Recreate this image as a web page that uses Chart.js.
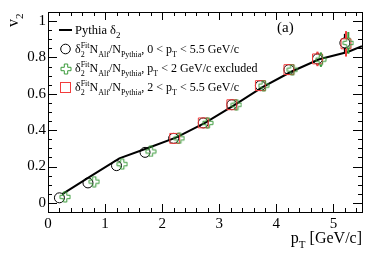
<!DOCTYPE html>
<html>
<head>
<meta charset="utf-8">
<script src="https://cdn.jsdelivr.net/npm/chart.js@4"></script>
<style>
  html, body { margin: 0; padding: 0; background: #fff; }
  #wrap { width: 374px; height: 253px; }
</style>
</head>
<body>
<div id="wrap"><canvas id="v2Chart"></canvas></div>
<script>
// Pythia delta_2 curve
const pythiaX = [0.25, 0.75, 1.25, 1.75, 2.25, 2.75, 3.25, 3.75, 4.25, 4.75, 5.25, 5.5];
const pythiaY = [0.048, 0.147, 0.245, 0.302, 0.36, 0.44, 0.535, 0.635, 0.72, 0.79, 0.83, 0.862];

// delta_2^Fit N_Alf/N_Pythia, 0 < pT < 5.5
const allX = [0.2, 0.7, 1.2, 1.7, 2.2, 2.72, 3.22, 3.72, 4.22, 4.72, 5.2];
const allY = [0.028, 0.11, 0.205, 0.278, 0.355, 0.44, 0.54, 0.645, 0.733, 0.792, 0.88];
const allErr = [0.005, 0.005, 0.005, 0.006, 0.008, 0.01, 0.012, 0.015, 0.02, 0.035, 0.05];

// pT < 2 GeV/c excluded
const exclX = [0.3, 0.81, 1.3, 1.8, 2.3, 2.8, 3.3, 3.78, 4.28, 4.78, 5.26];
const exclY = [0.033, 0.117, 0.213, 0.283, 0.355, 0.44, 0.54, 0.645, 0.733, 0.788, 0.88];
const exclErr = [0.005, 0.005, 0.005, 0.006, 0.008, 0.01, 0.012, 0.015, 0.02, 0.04, 0.06];

// 2 < pT < 5.5
const highX = [2.22, 2.72, 3.22, 3.72, 4.22, 4.72, 5.22];
const highY = [0.355, 0.44, 0.54, 0.645, 0.733, 0.792, 0.875];
const highErr = [0.008, 0.01, 0.012, 0.015, 0.02, 0.04, 0.07];

const xTicks = [0, 1, 2, 3, 4, 5];
const yTicks = [0, 0.2, 0.4, 0.6, 0.8, 1];

const GREEN = '#3a9a3a';
const RED = '#f23c3c';
const SERIF = '"Liberation Serif", "DejaVu Serif", serif';

function pts(xs, ys, es) {
    return xs.map((x, i) => ({ x: x, y: ys[i], e: es ? es[i] : 0 }));
}

// open cross marker (ROOT style 28)
function makeOpenCross(color) {
    const c = document.createElement('canvas');
    c.width = 12; c.height = 12;
    const g = c.getContext('2d');
    const m = 6, s = 5, a = 1.7;
    g.strokeStyle = color;
    g.lineWidth = 1;
    g.beginPath();
    g.moveTo(m - a, m - s); g.lineTo(m + a, m - s); g.lineTo(m + a, m - a);
    g.lineTo(m + s, m - a); g.lineTo(m + s, m + a); g.lineTo(m + a, m + a);
    g.lineTo(m + a, m + s); g.lineTo(m - a, m + s); g.lineTo(m - a, m + a);
    g.lineTo(m - s, m + a); g.lineTo(m - s, m - a); g.lineTo(m - a, m - a);
    g.closePath();
    g.stroke();
    return c;
}
const crossImg = makeOpenCross(GREEN);

// text with sub/superscripts: parts = [text, kind] kind: 'n' normal, 'b' sub, 'p' sup, 'bp' [sub, sup]
function drawRich(ctx, x, y, parts, size) {
    const small = Math.round(size * 0.68);
    parts.forEach(p => {
        const kind = p[1];
        if (kind === 'n') {
            ctx.font = size + 'px ' + SERIF;
            ctx.fillText(p[0], x, y);
            x += ctx.measureText(p[0]).width;
        } else if (kind === 'b') {
            ctx.font = small + 'px ' + SERIF;
            ctx.fillText(p[0], x, y + size * 0.3);
            x += ctx.measureText(p[0]).width;
        } else if (kind === 'p') {
            ctx.font = small + 'px ' + SERIF;
            ctx.fillText(p[0], x, y - size * 0.45);
            x += ctx.measureText(p[0]).width;
        } else {
            ctx.font = small + 'px ' + SERIF;
            ctx.fillText(p[0][0], x, y + size * 0.3);
            ctx.fillText(p[0][1], x, y - size * 0.45);
            x += Math.max(ctx.measureText(p[0][0]).width, ctx.measureText(p[0][1]).width);
        }
    });
    return x;
}

const fitPrefix = [['\u03b4', 'n'], [['2', 'Fit'], 'bp'], ['N', 'n'], ['Alf', 'b'], ['/N', 'n'], ['Pythia', 'b']];

const errorBars = {
    id: 'errorBars',
    afterDatasetsDraw(chart) {
        const ctx = chart.ctx;
        const ys = chart.scales.y;
        chart.data.datasets.forEach((ds, di) => {
            if (!ds.errColor) return;
            const meta = chart.getDatasetMeta(di);
            ctx.save();
            ctx.strokeStyle = ds.errColor;
            ctx.lineWidth = 2;
            meta.data.forEach((el, i) => {
                const d = ds.data[i];
                const top = ys.getPixelForValue(d.y + d.e);
                const bot = ys.getPixelForValue(d.y - d.e);
                const r = 5;
                if (el.y - top > r) {
                    ctx.beginPath(); ctx.moveTo(el.x, top); ctx.lineTo(el.x, el.y - r); ctx.stroke();
                    ctx.beginPath(); ctx.moveTo(el.x, el.y + r); ctx.lineTo(el.x, bot); ctx.stroke();
                }
            });
            ctx.restore();
        });
    }
};

const frameAndText = {
    id: 'frameAndText',
    afterDraw(chart) {
        const ctx = chart.ctx;
        const a = chart.chartArea;
        const xs = chart.scales.x, ys = chart.scales.y;
        ctx.save();
        ctx.strokeStyle = '#000';
        ctx.lineWidth = 1;
        ctx.strokeRect(Math.round(a.left) + 0.5, Math.round(a.top) + 0.5,
            Math.round(a.right - a.left), Math.round(a.bottom - a.top));

        // x ticks, bottom and top
        ctx.beginPath();
        for (let k = 0; k <= 27; k++) {
            const v = k * 0.2;
            const px = Math.round(xs.getPixelForValue(v)) + 0.5;
            const len = (k % 5 === 0) ? 8 : 4;
            ctx.moveTo(px, a.bottom); ctx.lineTo(px, a.bottom - len);
            ctx.moveTo(px, a.top); ctx.lineTo(px, a.top + len);
        }
        // y ticks, left and right
        for (let k = -1; k <= 21; k++) {
            const v = k * 0.05;
            const py = Math.round(ys.getPixelForValue(v)) + 0.5;
            const len = (k % 4 === 0) ? 9 : 4;
            ctx.moveTo(a.left, py); ctx.lineTo(a.left + len, py);
            ctx.moveTo(a.right, py); ctx.lineTo(a.right - len, py);
        }
        ctx.stroke();

        ctx.fillStyle = '#000';
        ctx.textBaseline = 'alphabetic';
        ctx.textAlign = 'left';

        // legend
        ctx.lineWidth = 2;
        ctx.beginPath(); ctx.moveTo(59, 30); ctx.lineTo(72, 30); ctx.stroke();
        drawRich(ctx, 75, 34, [['Pythia \u03b4', 'n'], ['2', 'b']], 12.5);

        ctx.lineWidth = 1;
        ctx.strokeStyle = '#000';
        ctx.beginPath(); ctx.arc(65.5, 49, 4.8, 0, Math.PI * 2); ctx.stroke();
        drawRich(ctx, 75, 53, fitPrefix.concat([[', 0 < p', 'n'], ['T', 'b'], [' < 5.5 GeV/c', 'n']]), 12);

        ctx.drawImage(crossImg, 60, 63);
        drawRich(ctx, 75, 72, fitPrefix.concat([[', p', 'n'], ['T', 'b'], [' < 2 GeV/c excluded', 'n']]), 12);

        ctx.strokeStyle = RED;
        ctx.strokeRect(60.5, 82.5, 10, 10);
        drawRich(ctx, 75, 91, fitPrefix.concat([[', 2 < p', 'n'], ['T', 'b'], [' < 5.5 GeV/c', 'n']]), 12);

        // panel tag
        ctx.font = '15px ' + SERIF;
        ctx.fillText('(a)', 277, 32);

        // axis titles
        ctx.font = '16px ' + SERIF;
        const w = ctx.measureText('p').width;
        ctx.font = '11px ' + SERIF;
        const wT = ctx.measureText('T').width;
        ctx.font = '16px ' + SERIF;
        const wRest = ctx.measureText(' [GeV/c]').width;
        drawRich(ctx, a.right - (w + wT + wRest), 243, [['p', 'n'], ['T', 'b'], [' [GeV/c]', 'n']], 16);

        ctx.translate(18, 27);
        ctx.rotate(-Math.PI / 2);
        drawRich(ctx, 0, 0, [['v', 'n'], ['2', 'b']], 16);
        ctx.restore();
    }
};

new Chart(document.getElementById('v2Chart'), {
    type: 'line',
    data: {
        datasets: [
            {
                label: 'Pythia',
                data: pts(pythiaX, pythiaY),
                borderColor: '#000',
                borderWidth: 2,
                pointRadius: 0,
                tension: 0,
                order: 4
            },
            {
                label: '0 < pT < 5.5',
                data: pts(allX, allY, allErr),
                showLine: false,
                pointStyle: 'circle',
                pointRadius: 5,
                borderWidth: 1,
                borderColor: '#000',
                backgroundColor: 'rgba(0,0,0,0)',
                errColor: '#000',
                order: 3
            },
            {
                label: 'pT < 2 excluded',
                data: pts(exclX, exclY, exclErr),
                showLine: false,
                pointStyle: crossImg,
                pointRadius: 6,
                errColor: GREEN,
                order: 1
            },
            {
                label: '2 < pT < 5.5',
                data: pts(highX, highY, highErr),
                showLine: false,
                pointStyle: 'rect',
                pointRadius: 7,
                borderWidth: 1,
                borderColor: RED,
                backgroundColor: 'rgba(0,0,0,0)',
                errColor: RED,
                order: 2
            }
        ]
    },
    options: {
        responsive: true,
        maintainAspectRatio: false,
        animation: false,
        layout: { padding: { top: 12, right: 12, left: 0, bottom: 0 } },
        plugins: { legend: { display: false }, tooltip: { enabled: false } },
        scales: {
            x: {
                type: 'linear',
                min: 0,
                max: 5.5,
                afterBuildTicks: s => { s.ticks = xTicks.map(v => ({ value: v })); },
                afterFit: s => { s.height = 41; },
                grid: { display: false, drawTicks: false },
                border: { display: false },
                ticks: { color: '#000', padding: 3, maxRotation: 0, font: { family: SERIF, size: 15 }, callback: v => String(v) }
            },
            y: {
                type: 'linear',
                min: -0.05,
                max: 1.05,
                afterBuildTicks: s => { s.ticks = yTicks.map(v => ({ value: v })); },
                afterFit: s => { s.width = 48; },
                grid: { display: false, drawTicks: false },
                border: { display: false },
                ticks: { color: '#000', padding: 2, font: { family: SERIF, size: 15 }, callback: v => String(Math.round(v * 10) / 10) }
            }
        }
    },
    plugins: [errorBars, frameAndText]
});
</script>
</body>
</html>
